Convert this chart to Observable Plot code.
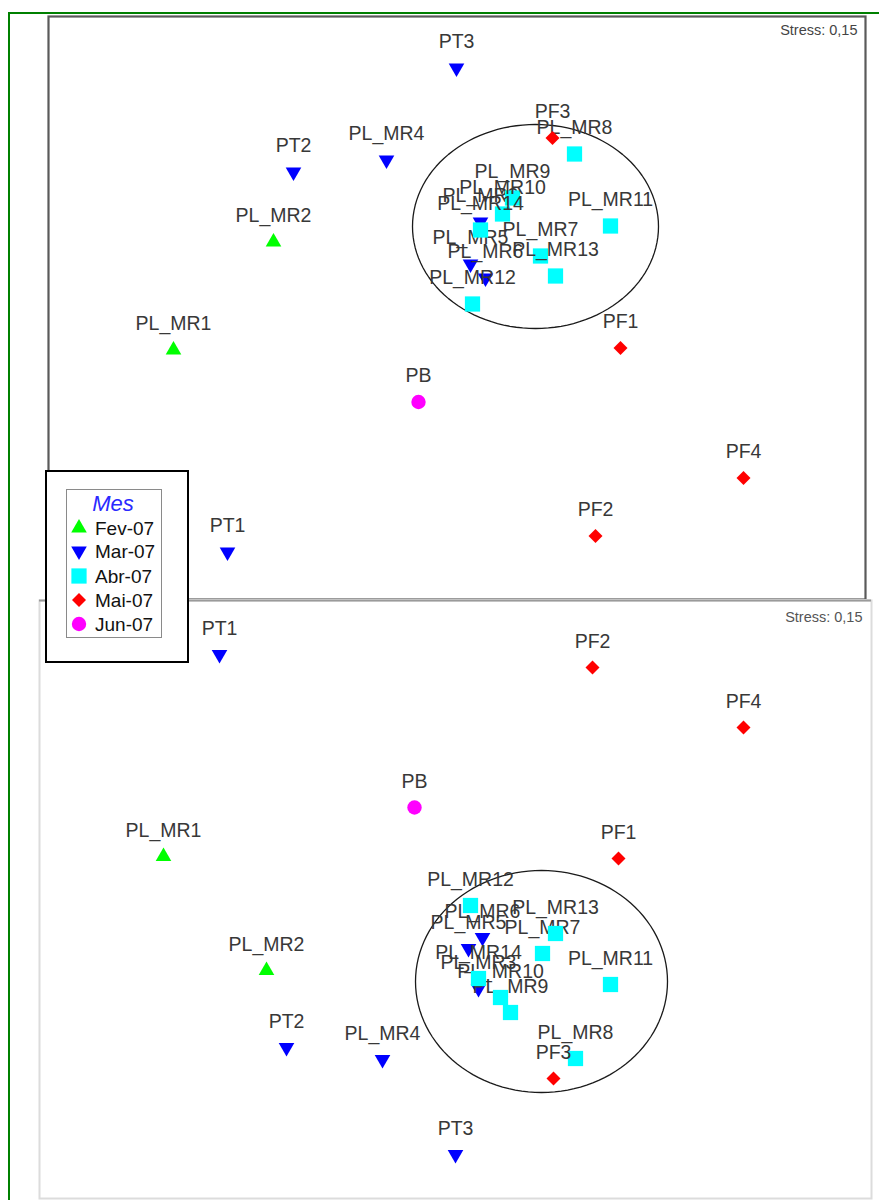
<!DOCTYPE html>
<html><head><meta charset="utf-8">
<script src="https://cdn.jsdelivr.net/npm/d3@7"></script>
<script src="https://cdn.jsdelivr.net/npm/@observablehq/plot@0.6"></script>
<style>
body{margin:0;background:#fff;font-family:"Liberation Sans",Arial,sans-serif;}
#wrap{position:relative;width:879px;height:1200px;overflow:hidden;background:#fff;}
#green{position:absolute;left:8px;top:12px;width:900px;height:1200px;border-left:2px solid #008000;border-top:2px solid #008000;}
#top{position:absolute;left:47px;top:15px;}
#bottom{position:absolute;left:38px;top:599px;}
#legend{position:absolute;left:45px;top:470px;}
</style></head><body>
<div id="wrap"><div id="green"></div><div id="top"></div><div id="bottom"></div><div id="legend"></div></div>
<script>
// ---- data (MDS coordinates) ----
const samples = ["PL_MR1","PL_MR2","PL_MR3","PL_MR4","PL_MR5","PL_MR6","PL_MR7","PL_MR8","PL_MR9","PL_MR10","PL_MR11","PL_MR12","PL_MR13","PL_MR14","PT1","PT2","PT3","PF1","PF2","PF3","PF4","PB"];
const months = ["Fev-07","Fev-07","Mar-07","Mar-07","Mar-07","Mar-07","Abr-07","Abr-07","Abr-07","Abr-07","Abr-07","Abr-07","Abr-07","Abr-07","Mar-07","Mar-07","Mar-07","Mai-07","Mai-07","Mai-07","Mai-07","Jun-07"];
const monthNames = ["Fev-07","Mar-07","Abr-07","Mai-07","Jun-07"];
const topX = [-1.42,-0.92,0.115,-0.355,0.065,0.14,0.415,0.585,0.275,0.225,0.765,0.075,0.49,0.115,-1.15,-0.82,-0.005,0.815,0.69,0.475,1.43,-0.195];
const topY = [-0.21,0.33,0.43,0.74,0.22,0.15,0.26,0.77,0.55,0.47,0.41,0.02,0.16,0.39,-1.22,0.68,1.20,-0.20,-1.14,0.85,-0.85,-0.47];
const bottomX = [-1.46,-0.945,0.115,-0.365,0.065,0.135,0.435,0.60,0.275,0.225,0.775,0.075,0.50,0.115,-1.18,-0.845,0.0,0.815,0.685,0.49,1.44,-0.205];
const bottomY = [0.215,-0.355,-0.445,-0.80,-0.245,-0.19,-0.27,-0.795,-0.565,-0.49,-0.425,-0.03,-0.17,-0.395,1.225,-0.74,-1.275,0.205,1.16,-0.895,0.86,0.46];
const stressLabel = "Stress: 0,15";
const legendTitle = "Mes";
// group ellipses (center x, center y, radius x, radius y) in MDS units
const topGroup = [0.39, 0.4075, 0.615, 0.51];
const bottomGroup = [0.43, -0.41, 0.63, 0.555];

// ---- styles ----
const style = {
  "Fev-07": {fill:"#00ff00", symbol:"triangle", r:5.8, rotate:0},
  "Mar-07": {fill:"#0000ff", symbol:"triangle", r:5.8, rotate:180},
  "Abr-07": {fill:"#00ffff", symbol:"square", r:8.6, rotate:0},
  "Mai-07": {fill:"#ff0000", symbol:"diamond2", r:6.3, rotate:0},
  "Jun-07": {fill:"#ff00ff", symbol:"circle", r:7.2, rotate:0}
};
const FONT = "Liberation Sans, Arial, sans-serif";

function ellipse(g){
  return d3.range(0, 361, 3).map(a => ({x: g[0] + g[2]*Math.cos(a*Math.PI/180), y: g[1] + g[3]*Math.sin(a*Math.PI/180)}));
}

function panel({X, Y, group, width, height, xDomain, yDomain, frameMarks, stressDx, stressDy, stressFill}){
  const rows = samples.map((s,i) => ({name:s, month:months[i], x:X[i], y:Y[i]}));
  const marks = [...frameMarks];
  marks.push(Plot.line(ellipse(group), {x:"x", y:"y", stroke:"#1a1a1a", strokeWidth:1.3}));
  rows.forEach(d => {
    const st = style[d.month];
    marks.push(Plot.dot([d], {x:"x", y:"y", symbol:st.symbol, r:st.r, rotate:st.rotate, fill:st.fill, stroke:"none"}));
    marks.push(Plot.text([d], {x:"x", y:"y", text:"name", dy:-26, fontSize:19.5, fill:"#383838", fontFamily:FONT}));
  });
  marks.push(Plot.text([stressLabel], {frameAnchor:"top-right", text:d=>d, textAnchor:"end", lineAnchor:"middle", dx:stressDx, dy:stressDy, fontSize:14.5, fill:stressFill, fontFamily:FONT}));
  return Plot.plot({
    width, height,
    marginTop:1, marginRight:1, marginBottom:1, marginLeft:1,
    x:{domain:xDomain, axis:null},
    y:{domain:yDomain, axis:null},
    style:{background:"#fff", overflow:"visible"},
    marks
  });
}

document.getElementById("top").append(panel({
  X: topX, Y: topY, group: topGroup, width: 819, height: 585,
  xDomain: [-2.045, 2.04], yDomain: [-1.4575, 1.4575],
  frameMarks: [Plot.frame({stroke:"#5a5a5a", strokeWidth:2.2})],
  stressDx: -8, stressDy: 14, stressFill:"#444"
}));

document.getElementById("bottom").append(panel({
  X: bottomX, Y: bottomY, group: bottomGroup, width: 834, height: 600,
  xDomain: [-2.08, 2.08], yDomain: [-1.495, 1.495],
  frameMarks: [Plot.frame({stroke:"#dcdcdc", strokeWidth:2}), Plot.ruleY([1.495], {stroke:"#9a9a9a", strokeWidth:2})],
  stressDx: -9, stressDy: 17, stressFill:"#555"
}));

// ---- legend ----
(function(){
  const svg = d3.create("svg").attr("width", 145).attr("height", 194).attr("font-family", FONT);
  svg.append("rect").attr("x",1).attr("y",1).attr("width",142).attr("height",191).attr("fill","#fff").attr("stroke","#000").attr("stroke-width",2);
  svg.append("rect").attr("x",21.5).attr("y",19.5).attr("width",95).attr("height",148).attr("fill","none").attr("stroke","#8a8a8a").attr("stroke-width",1);
  svg.append("text").attr("x",68).attr("y",33).attr("text-anchor","middle").attr("dominant-baseline","central")
     .attr("font-style","italic").attr("font-size",22).attr("fill","#2a2aff").text(legendTitle);
  const types = {triangle:d3.symbolTriangle, square:d3.symbolSquare, diamond2:(d3.symbolDiamond2||d3.symbolDiamond), circle:d3.symbolCircle};
  const rowY = [58, 81, 106, 130, 154];
  monthNames.forEach((m,i) => {
    const st = style[m];
    svg.append("path").attr("d", d3.symbol().type(types[st.symbol]).size(Math.PI*st.r*st.r)())
       .attr("transform", `translate(34,${rowY[i]}) rotate(${st.rotate})`).attr("fill", st.fill);
    svg.append("text").attr("x",50).attr("y",rowY[i]).attr("dominant-baseline","central")
       .attr("font-size",19).attr("fill","#111").text(m);
  });
  document.getElementById("legend").append(svg.node());
})();
</script>
</body></html>
